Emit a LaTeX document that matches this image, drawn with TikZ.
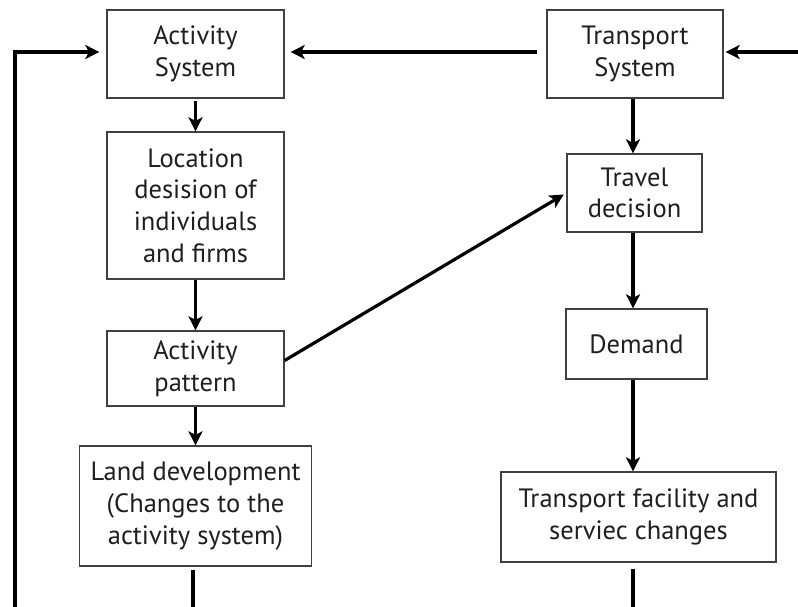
\documentclass[tikz,border=0pt]{standalone}
\usepackage{fontspec}
\setmainfont{PT Sans}
\usetikzlibrary{arrows.meta}
\begin{document}
\begin{tikzpicture}[x=1pt,y=-1pt,
  box/.style={draw=black!75,line width=1.3pt,align=center,inner sep=0pt,
    font=\fontsize{26.5}{31.7}\selectfont,text=black!88},
  flow/.style={line width=3.2pt,-{Stealth[length=14pt,width=14pt,inset=3.5pt]}},
  plain/.style={line width=3.2pt}]
\useasboundingbox (0,0) rectangle (798,607);
\fill[white] (0,0) rectangle (798,607);
% left column
\node[box,minimum width=177pt,minimum height=88pt] (act) at (195.5,54) {Activity\\System};
\node[box,minimum width=177pt,minimum height=147pt] (loc) at (195.5,205.5) {Location\\desision of\\individuals\\and firms};
\node[box,minimum width=177pt,minimum height=75pt] (pat) at (195.5,368.5) {Activity\\pattern};
\node[box,minimum width=232pt,minimum height=120pt] (land) at (195.5,506) {Land development\\(Changes to the\\activity system)};
% right column
\node[box,minimum width=176pt,minimum height=88pt] (trans) at (635,54) {Transport\\System};
\node[box,minimum width=135pt,minimum height=78pt] (travel) at (634.5,193) {Travel\\decision};
\node[box,minimum width=141pt,minimum height=70pt] (dem) at (636.5,344) {Demand};
\node[box,minimum width=275pt,minimum height=90pt] (fac) at (638.5,517) {Transport facility and\\serviec changes};
% free ends at the page border
\coordinate (lbot) at (15,607);
\coordinate (rin) at (798,52);
\coordinate (landbot) at (193,607);
\coordinate (facbot) at (633,607);
% vertical flows
\draw[flow,shorten <=2pt] (act.south) -- (loc.north);
\draw[flow] (loc.south) -- (pat.north);
\draw[flow] (pat.south) -- (land.north);
\draw[flow] ([xshift=-2pt]trans.south) -- ([xshift=-2pt]trans.south |- travel.north);
\draw[flow] ([xshift=-1.5pt]travel.south) -- ([xshift=-1.5pt]travel.south |- dem.north);
\draw[flow] ([xshift=-3.5pt]dem.south) -- ([xshift=-3.5pt]dem.south |- fac.north);
% horizontal flows
\draw[flow,shorten <=9pt,shorten >=6pt] (trans.west |- 0,52) -- (act.east |- 0,52);
\draw[flow,shorten >=2pt] (rin) -- (trans.east |- rin);
\draw[flow,shorten >=7pt] (lbot) |- (act.west |- 0,52);
% diagonal flow
\draw[flow,shorten >=3pt] ([yshift=8pt]pat.east) -- (travel.west);
% lines leaving at the bottom
\draw[plain,shorten <=3pt] (landbot |- land.south) -- (landbot);
\draw[plain,shorten <=6pt] (facbot |- fac.south) -- (facbot);
\end{tikzpicture}
\end{document}
